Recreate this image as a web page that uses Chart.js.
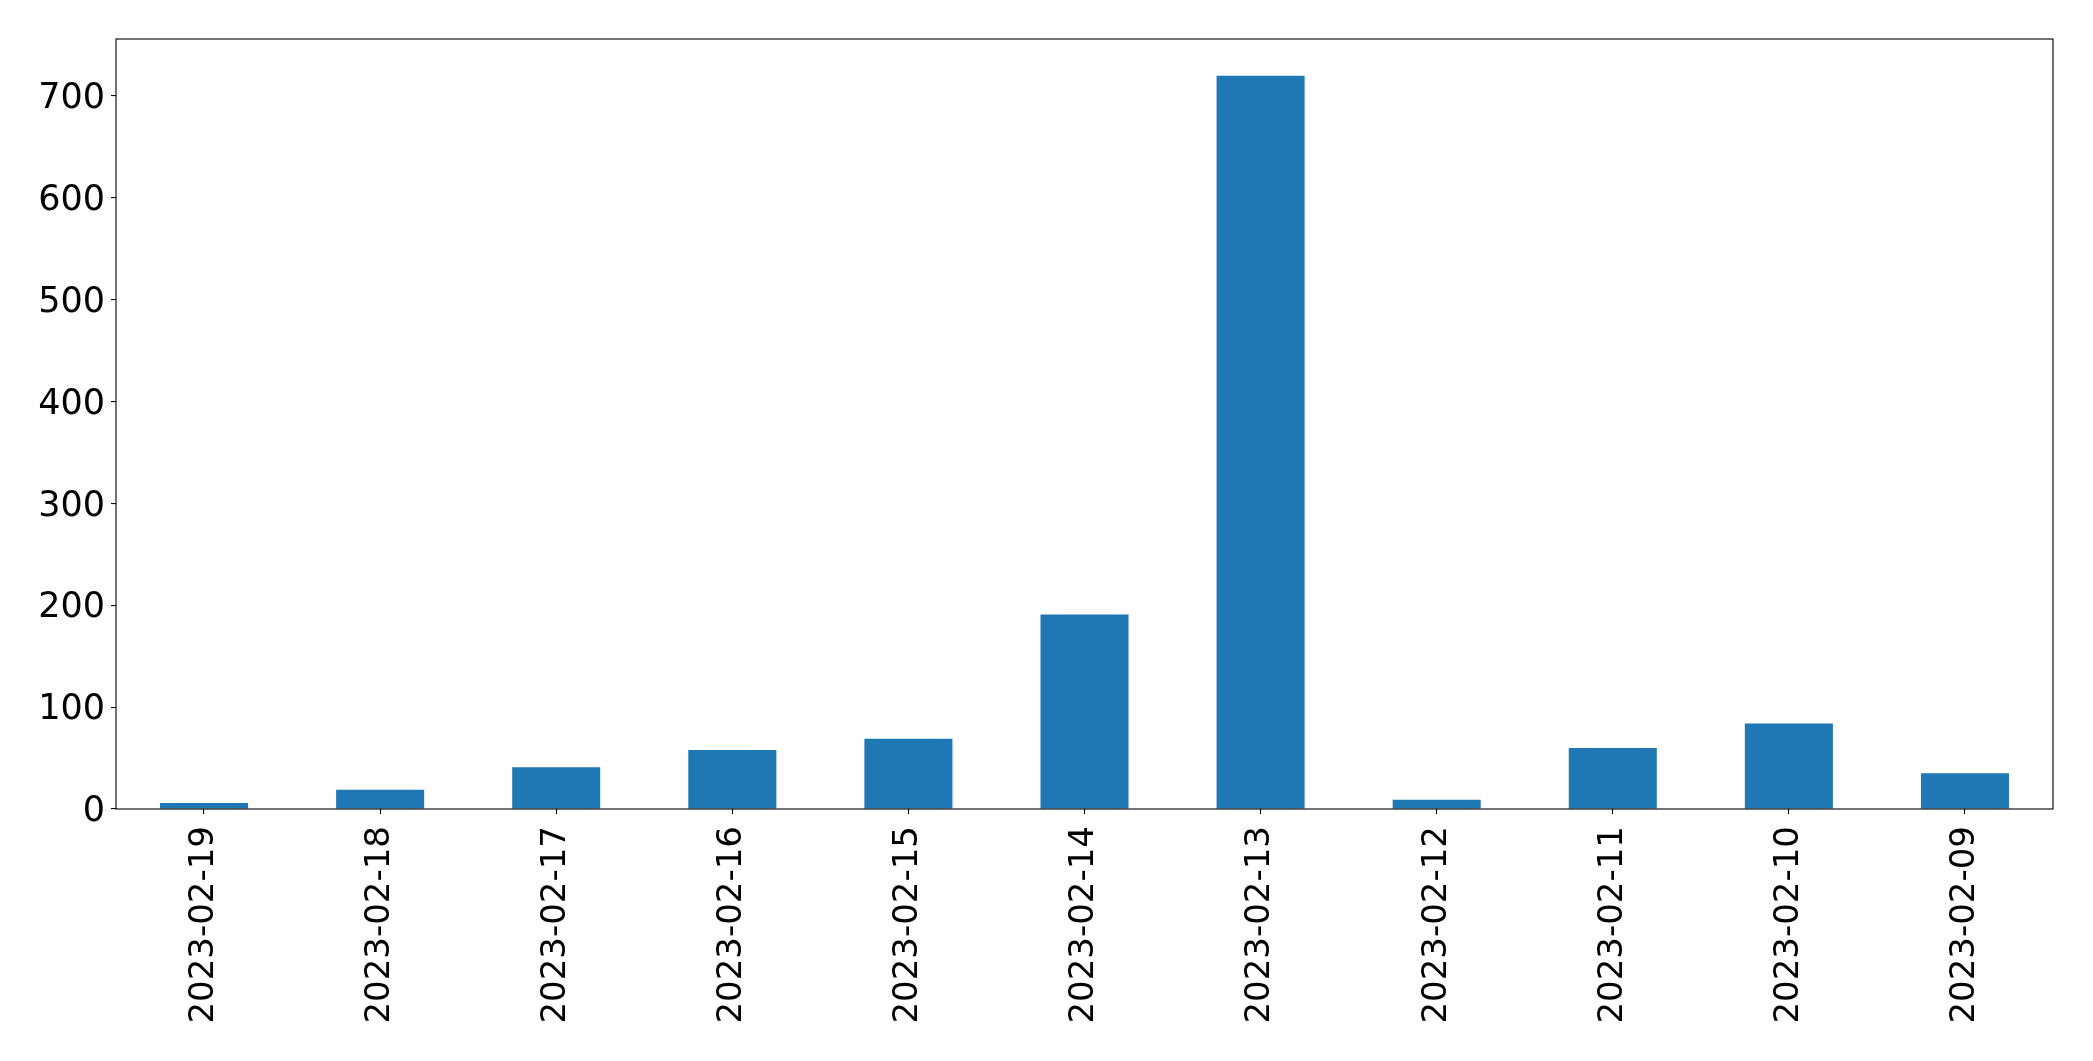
<!DOCTYPE html>
<html>
<head>
<meta charset="utf-8">
<script src="https://cdn.jsdelivr.net/npm/chart.js@4/dist/chart.umd.min.js"></script>
<style>
  html, body { margin: 0; padding: 0; background: #fff; }
  #wrap { width: 2093px; height: 1061px; position: relative; }
</style>
</head>
<body>
<div id="wrap"><canvas id="c" width="2093" height="1061"></canvas></div>
<script>
const categories = ["2023-02-19","2023-02-18","2023-02-17","2023-02-16","2023-02-15","2023-02-14","2023-02-13","2023-02-12","2023-02-11","2023-02-10","2023-02-09"];
const values = [6, 19, 41, 58, 69, 191, 720, 9, 60, 84, 35];
const yTicks = [0, 100, 200, 300, 400, 500, 600, 700];
const yMax = 756;

const frame = {
  id: 'frame',
  afterDraw(chart) {
    const {ctx, chartArea: a} = chart;
    ctx.save();
    ctx.strokeStyle = '#000';
    ctx.lineWidth = 1.1;
    ctx.strokeRect(a.left, a.top, a.right - a.left, a.bottom - a.top);
    ctx.restore();
  }
};

Chart.defaults.font.family = "'DejaVu Sans', sans-serif";
Chart.defaults.font.size = 34;
Chart.defaults.color = '#000';

new Chart(document.getElementById('c'), {
  type: 'bar',
  data: {
    labels: categories,
    datasets: [{
      data: values,
      backgroundColor: '#1f77b4',
      borderWidth: 0,
      barPercentage: 0.5,
      categoryPercentage: 1.0
    }]
  },
  options: {
    responsive: false,
    animation: false,
    devicePixelRatio: 1,
    layout: { padding: { top: 39, right: 40, left: 0, bottom: 0 } },
    plugins: { legend: { display: false }, tooltip: { enabled: false } },
    scales: {
      x: {
        grid: { display: true, offset: false, drawOnChartArea: false, drawTicks: true, tickLength: 5, color: '#000', lineWidth: 1.1 },
        border: { display: false },
        ticks: { maxRotation: 90, minRotation: 90, padding: 12, autoSkip: false, font: { size: 34 } },
        afterFit(s) { s.height = 252; }
      },
      y: {
        min: 0,
        max: yMax,
        grid: { display: true, drawOnChartArea: false, drawTicks: true, tickLength: 5, color: '#000', lineWidth: 1.1 },
        border: { display: false },
        ticks: { padding: 6, labelOffset: 3, font: { size: 35 } },
        afterBuildTicks(s) { s.ticks = yTicks.map(v => ({ value: v })); },
        afterFit(s) { s.width = 116; }
      }
    }
  },
  plugins: [frame]
});
</script>
</body>
</html>
